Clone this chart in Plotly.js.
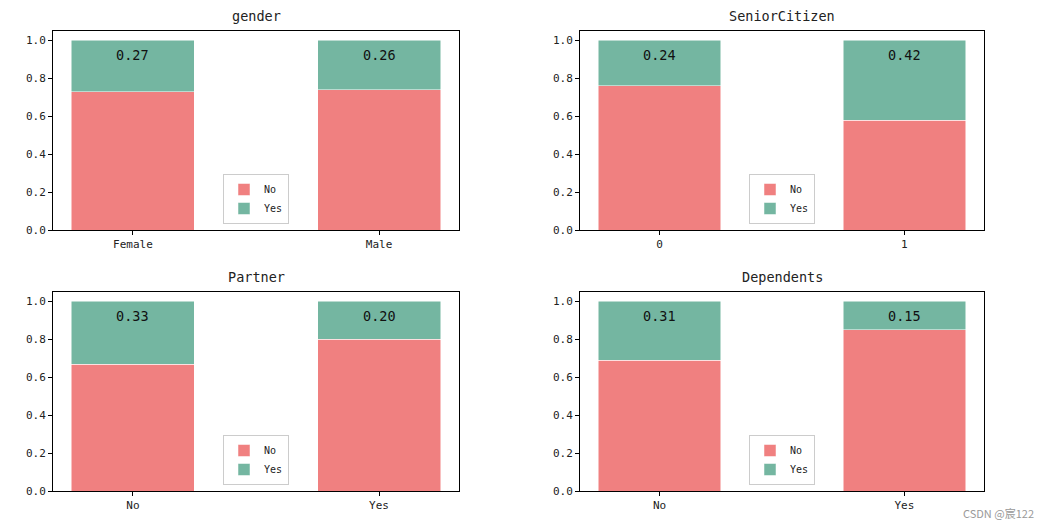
<!DOCTYPE html>
<html>
<head>
<meta charset="utf-8">
<script src="https://cdn.plot.ly/plotly-3.0.1.min.js"></script>
<style>html,body{margin:0;padding:0;background:#fff;}#chart{width:1049px;height:529px;}</style>
</head>
<body>
<div id="chart"></div>
<script>
// ---- data ----
const panelTitles = ["gender", "SeniorCitizen", "Partner", "Dependents"];
const genderCats = ["Female", "Male"];
const genderYes = [0.27, 0.26];
const seniorCats = ["0", "1"];
const seniorYes = [0.24, 0.42];
const partnerCats = ["No", "Yes"];
const partnerYes = [0.33, 0.20];
const dependentsCats = ["No", "Yes"];
const dependentsYes = [0.31, 0.15];
const yTicks = [0, 0.2, 0.4, 0.6, 0.8, 1.0];
const seriesNames = ["No", "Yes"];

const panels = [
  {cats: genderCats, yes: genderYes},
  {cats: seniorCats, yes: seniorYes},
  {cats: partnerCats, yes: partnerYes},
  {cats: dependentsCats, yes: dependentsYes}
];

const FONT = '"DejaVu Sans Mono", "Noto Sans CJK SC", monospace';
const colNo = '#F08080';
const colYes = '#74B6A1';

const W = 1049, H = 529;
const px = v => v / W, py = v => 1 - v / H;
const xDomains = [[53, 459], [580, 984]];
const yDomains = [[31, 230], [292, 491]];

const traces = [];
const annotations = [];
const layout = {
  width: W, height: H,
  margin: {l: 0, r: 0, t: 0, b: 0},
  paper_bgcolor: '#fff', plot_bgcolor: '#fff',
  barmode: 'stack',
  font: {family: FONT, size: 10, color: '#222'},
  annotations: annotations,
  showlegend: true
};

panels.forEach((p, i) => {
  const n = i + 1;
  const xa = n === 1 ? 'x' : 'x' + n;
  const ya = n === 1 ? 'y' : 'y' + n;
  const lg = n === 1 ? 'legend' : 'legend' + n;
  const col = i % 2, row = Math.floor(i / 2);
  const xd = xDomains[col], yd = yDomains[row];
  const noVals = p.yes.map(v => 1 - v);

  traces.push({
    type: 'bar', x: p.cats, y: noVals, name: seriesNames[0],
    xaxis: xa, yaxis: ya, legend: lg, width: 0.5,
    marker: {color: colNo, line: {color: '#fff', width: 0.5}},
    hoverinfo: 'skip'
  });
  traces.push({
    type: 'bar', x: p.cats, y: p.yes, name: seriesNames[1],
    xaxis: xa, yaxis: ya, legend: lg, width: 0.5,
    marker: {color: colYes, line: {color: '#fff', width: 0.5}},
    hoverinfo: 'skip'
  });

  const axX = {
    domain: [px(xd[0]), px(xd[1])],
    anchor: ya, type: 'category', range: [-0.325, 1.325],
    showgrid: false, zeroline: false,
    showline: true, linecolor: '#000', linewidth: 1, mirror: true,
    ticks: 'outside', ticklen: 4, tickcolor: '#000',
    tickfont: {family: FONT, size: 11, color: '#222'}
  };
  const axY = {
    domain: [py(yd[1]), py(yd[0])],
    anchor: xa, range: [0, 1.05],
    tickvals: yTicks, ticktext: yTicks.map(v => v.toFixed(1)),
    showgrid: false, zeroline: false,
    showline: true, linecolor: '#000', linewidth: 1, mirror: true,
    ticks: 'outside', ticklen: 4, tickcolor: '#000',
    tickfont: {family: FONT, size: 11, color: '#222'}
  };
  layout['xaxis' + (n === 1 ? '' : n)] = axX;
  layout['yaxis' + (n === 1 ? '' : n)] = axY;

  layout[lg] = {
    x: px((xd[0] + xd[1]) / 2), xanchor: 'center',
    y: py(yd[1] - 6), yanchor: 'bottom',
    bgcolor: '#fff', bordercolor: '#ccc', borderwidth: 1,
    font: {family: FONT, size: 10, color: '#222'},
    traceorder: 'normal',
    tracegroupgap: 0, itemwidth: 30
  };

  annotations.push({
    text: panelTitles[i], xref: 'paper', yref: 'paper',
    x: px((xd[0] + xd[1]) / 2), y: py(yd[0] - 15),
    xanchor: 'center', yanchor: 'middle', showarrow: false,
    font: {family: FONT, size: 13.5, color: '#222'}
  });

  p.cats.forEach((c, k) => {
    annotations.push({
      text: p.yes[k].toFixed(2), xref: xa, yref: ya,
      x: c, y: 0.925, xanchor: 'center', yanchor: 'middle', showarrow: false,
      font: {family: FONT, size: 13.5, color: '#111'}
    });
  });
});

annotations.push({
  text: 'CSDN @宸122', xref: 'paper', yref: 'paper',
  x: px(1036), y: py(513), xanchor: 'right', yanchor: 'middle', showarrow: false,
  font: {family: '"Noto Sans CJK SC", sans-serif', size: 11, color: '#999'}
});

Plotly.newPlot('chart', traces, layout, {staticPlot: true, displayModeBar: false});
</script>
</body>
</html>
